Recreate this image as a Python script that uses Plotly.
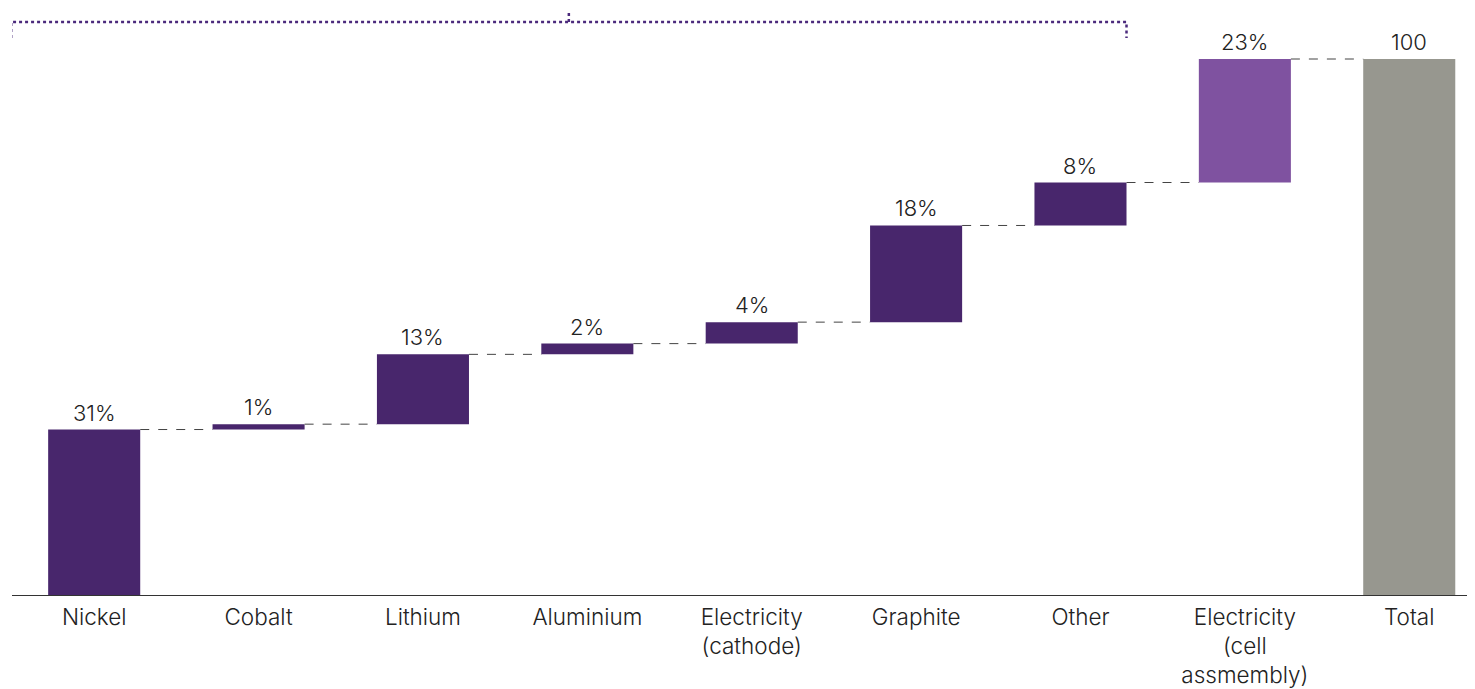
import plotly.graph_objects as go
import numpy as np

categories = ["Nickel", "Cobalt", "Lithium", "Aluminium", "Electricity<br>(cathode)",
              "Graphite", "Other", "Electricity<br>(cell<br>assmembly)", "Total"]
values = [31, 1, 13, 2, 4, 18, 8, 23]
total = 100
labels = ["31%", "1%", "13%", "2%", "4%", "18%", "8%", "23%", "100"]
colors = ["#48266c"] * 7 + ["#7f52a0", "#97978f"]

cum = np.cumsum(values)
bases = list(np.concatenate([[0], cum[:-1]])) + [0]
heights = values + [total]
tops = [b + h for b, h in zip(bases, heights)]
xs = list(range(len(categories)))
bw = 0.56

fig = go.Figure()
fig.add_trace(go.Bar(x=xs, y=heights, base=bases, marker=dict(color=colors, line=dict(width=0)),
                     width=bw, hoverinfo="skip"))

# connectors
for i in range(len(categories) - 1):
    fig.add_trace(go.Scatter(x=[i + bw / 2, i + 1 - bw / 2], y=[tops[i], tops[i]], mode="lines",
                             line=dict(color="#444444", width=1, dash="dash"), hoverinfo="skip"))

for x, t, lab in zip(xs, tops, labels):
    fig.add_annotation(x=x, y=t, text=lab, showarrow=False, yanchor="bottom", yshift=2,
                       font=dict(size=22, color="#222222", weight=300))

# bracket over material components
bl, br = -0.505, 6 + bw / 2
bmid = (bl + br) / 2
bc = "#4b2a7c"
fig.add_trace(go.Scatter(x=[bl, bl, br, br], y=[103.9, 106.9, 106.9, 103.9], mode="lines",
                         line=dict(color=bc, width=2.5, dash="dot"), hoverinfo="skip"))
fig.add_trace(go.Scatter(x=[bmid, bmid], y=[106.9, 109.1], mode="lines",
                         line=dict(color=bc, width=2.5, dash="dot"), hoverinfo="skip"))

fig.update_layout(
    width=1467, height=681, margin=dict(l=4, r=0, t=0, b=93),
    plot_bgcolor="white", paper_bgcolor="white", showlegend=False,
    font=dict(family="Inter, Liberation Sans, Arial", color="#222222"),
    xaxis=dict(range=[-0.5, 8.4], tickvals=xs, ticktext=categories, showgrid=False,
               zeroline=False, showline=False, ticks="", ticklabelstandoff=5, automargin=False,
               tickfont=dict(size=22.5, weight=300)),
    yaxis=dict(range=[0, 588 / 5.37], visible=False, showgrid=False, zeroline=False,
               automargin=False),
)
fig.add_shape(type="line", xref="paper", yref="y", x0=0, x1=1, y0=0, y1=0,
              line=dict(color="#333333", width=2))

fig.write_html("out.html")
